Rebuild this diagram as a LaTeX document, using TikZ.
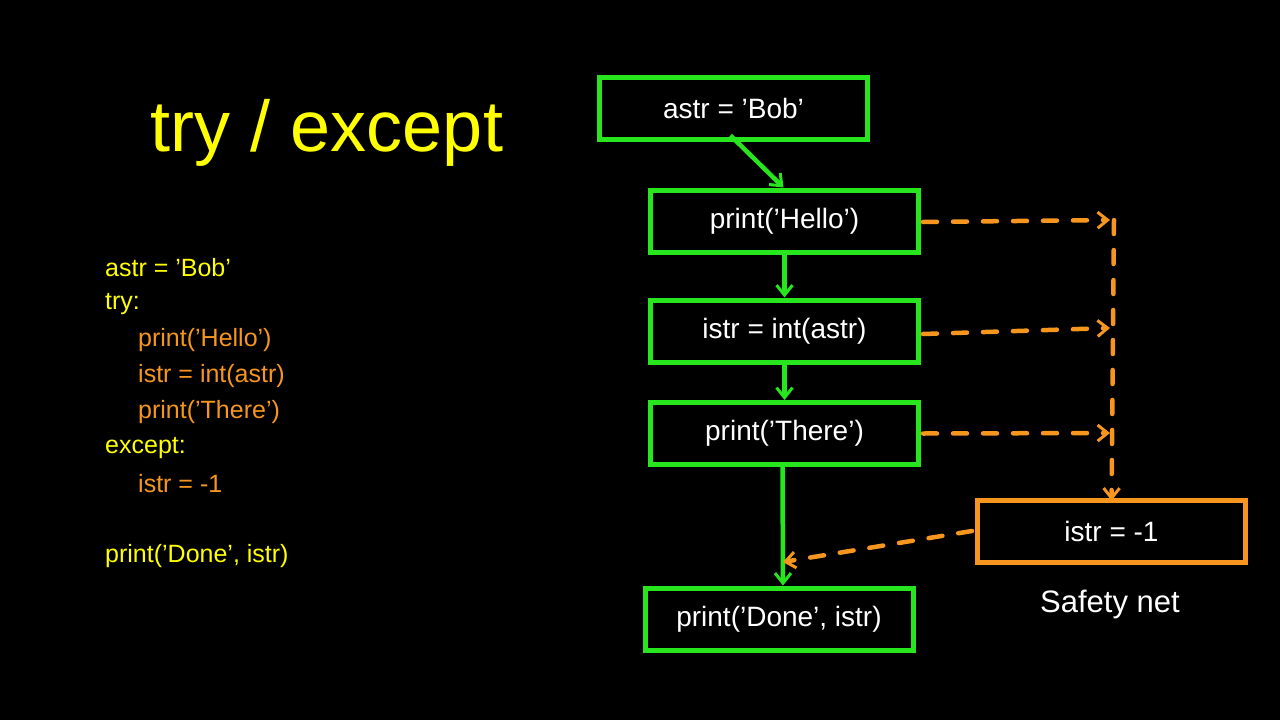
\documentclass[tikz,border=0pt]{standalone}
\usepackage{fontspec}
\setmainfont{Liberation Sans}
\usetikzlibrary{arrows.meta}
\definecolor{grn}{RGB}{40,230,30}
\definecolor{org}{RGB}{246,150,30}
\definecolor{ylw}{RGB}{255,255,0}
\begin{document}
\begin{tikzpicture}[x=1pt,y=-1pt,
  gbox/.style={draw=grn,line width=5pt,minimum width=268pt,minimum height=62pt,text=white,font=\fontsize{28}{32}\selectfont,inner sep=0},
  obox/.style={gbox,draw=org},
  garr/.style={draw=grn,line width=4.5pt,-{Straight Barb[length=10pt,width=16pt,line width=3pt]}},
  oarr/.style={draw=org,line width=4.5pt,dash pattern=on 14pt off 16pt,line cap=round,-{Straight Barb[length=10pt,width=16pt,line width=3pt]}},
  code/.style={anchor=west,font=\fontsize{25}{30}\selectfont,inner sep=0}]
\fill[black] (0,0) rectangle (1280,720);
\useasboundingbox (0,0) rectangle (1280,720);
\node[text=ylw,font=\fontsize{72}{80}\selectfont] (title) at (327,133) {try / except};
\node[code,text=ylw] (c1) at (105,268) {astr = 'Bob'};
\node[code,text=ylw] (c2) at (105,304) {try:};
\node[code,text=org] (c3) at (138,340) {print('Hello')};
\node[code,text=org] (c4) at (138,376) {istr = int(astr)};
\node[code,text=org] (c5) at (138,412) {print('There')};
\node[code,text=ylw] (c6) at (105,448) {except:};
\node[code,text=org] (c7) at (138,484) {istr = -1};
\node[code,text=ylw] (c8) at (105,556) {print('Done', istr)};
\node[gbox] (b1) at (733.5,108) {astr = 'Bob'};
\node[gbox] (b2) at (784.5,221) {print('Hello')};
\node[gbox] (b3) at (784.5,331) {istr = int(astr)};
\node[gbox] (b4) at (784.5,433.5) {print('There')};
\node[obox] (b5) at (1111.5,531) {istr = -1};
\node[gbox] (b6) at (779,619) {print('Done', istr)};
\node[text=white,font=\fontsize{31}{36}\selectfont] (sn) at (1110,604) {Safety net};
\coordinate (r1) at (1114,220);
\coordinate (r2) at (1114,328);
\coordinate (r3) at (1114,433);
\coordinate (m) at (783,562);
\draw[garr] ([xshift=-3pt,yshift=6pt]b1.south) -- ([xshift=-1pt]b2.north);
\draw[garr] (b2.south) -- (b3.north);
\draw[garr] (b3.south) -- (b4.north);
\draw[garr] ([xshift=-2pt]b4.south) -- ([xshift=4pt]b6.north);
\draw[oarr] ([xshift=2pt,yshift=-1pt]b2.east) -- ([xshift=-4pt]r1);
\draw[oarr] ([xshift=2pt,yshift=-3pt]b3.east) -- ([xshift=-4pt]r2);
\draw[oarr] ([xshift=2pt]b4.east) -- ([xshift=-4pt]r3);
\draw[oarr] (r1) -- ([yshift=-3pt]b5.north);
\draw[oarr] ([xshift=-3pt]b5.west) -- (m);
\end{tikzpicture}
\end{document}
